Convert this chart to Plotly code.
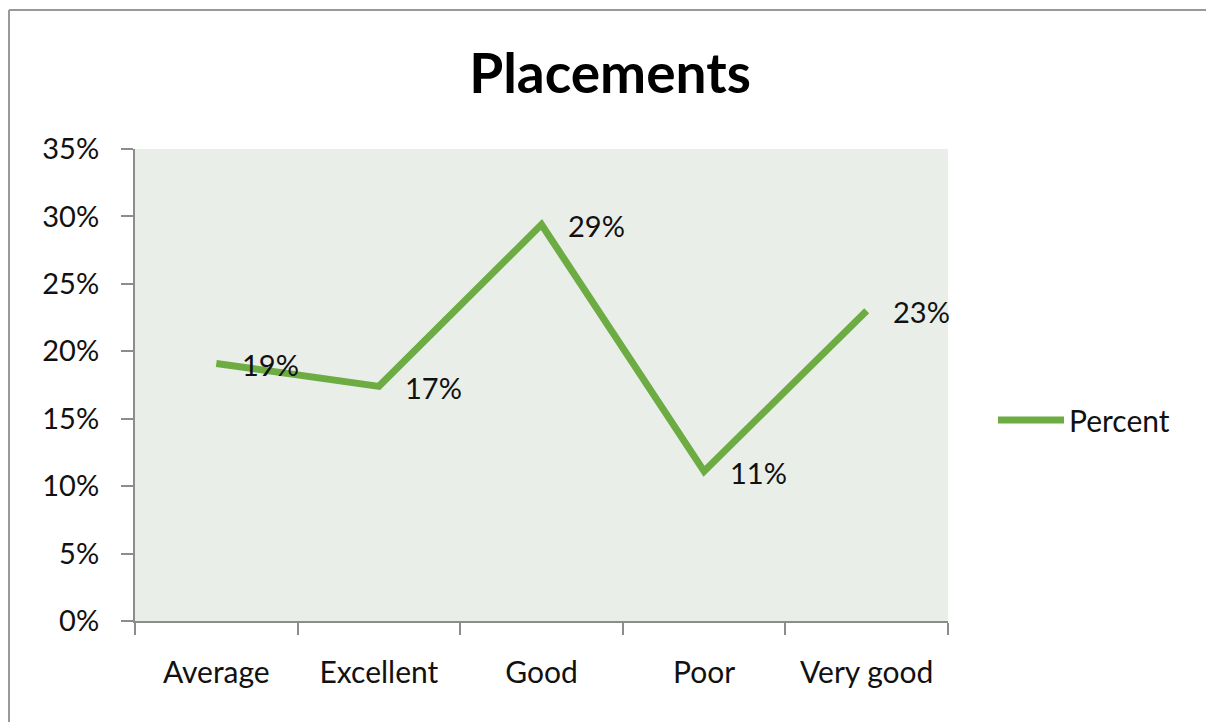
import plotly.graph_objects as go

categories = ["Average", "Excellent", "Good", "Poor", "Very good"]
percent = [0.191, 0.174, 0.294, 0.111, 0.23]
y_ticks = [0, 0.05, 0.10, 0.15, 0.20, 0.25, 0.30, 0.35]

GREEN = "#6DAB43"
FONT = "Lato, 'Open Sans', sans-serif"
NUM_SIZE = 29
TXT_SIZE = 30

fig = go.Figure()
fig.add_trace(go.Scatter(
    x=categories,
    y=percent,
    mode="lines",
    name="Percent",
    line=dict(color=GREEN, width=7),
))

# data labels placed to the right of each point
for cat, val in zip(categories, percent):
    fig.add_annotation(
        x=cat, y=val, xref="x", yref="y",
        text=f"{val:.0%}", showarrow=False,
        xanchor="left", yanchor="middle", xshift=24, yshift=-1,
        font=dict(family=FONT, size=NUM_SIZE, color="#111"),
    )

L, R, T, B = 135, 258, 149, 101
W, H = 1206, 722
pw, ph = W - L - R, H - T - B

fig.update_layout(
    width=W, height=H,
    margin=dict(l=L, r=R, t=T, b=B),
    paper_bgcolor="white",
    plot_bgcolor="#E9EEE8",
    font=dict(family=FONT, size=TXT_SIZE, color="#111"),
    title=dict(text="<b>Placements</b>", x=610 / W, xanchor="center",
               y=1 - 74 / H, yanchor="middle",
               font=dict(family=FONT, size=55, color="#000")),
    showlegend=True,
    legend=dict(x=(993 - L) / pw, y=(621 - 420) / ph, xanchor="left", yanchor="middle",
                font=dict(family=FONT, size=TXT_SIZE, color="#111"),
                bgcolor="rgba(0,0,0,0)", itemwidth=66),
    xaxis=dict(
        type="category", range=[-0.5, 4.5],
        showline=True, linecolor="#8C8C8C", linewidth=2,
        ticks="outside", ticklen=12, tickcolor="#8C8C8C", tickwidth=2,
        tickson="boundaries", showgrid=False, zeroline=False,
        ticklabelstandoff=24,
        tickfont=dict(family=FONT, size=TXT_SIZE, color="#111"),
    ),
    yaxis=dict(
        range=[0, 0.35], tickvals=y_ticks, tickformat=".0%",
        showline=True, linecolor="#8C8C8C", linewidth=2,
        ticks="outside", ticklen=12, tickcolor="#8C8C8C", tickwidth=2,
        showgrid=False, zeroline=False,
        ticklabelstandoff=16,
        tickfont=dict(family=FONT, size=NUM_SIZE, color="#111"),
    ),
)

# chart frame: left and top edges
frame = dict(color="#999999", width=2)
fig.add_shape(type="line", xref="paper", yref="paper",
              x0=(9 - L) / pw, x1=(9 - L) / pw,
              y0=(621 - 760) / ph, y1=(621 - 10) / ph, line=frame, layer="below")
fig.add_shape(type="line", xref="paper", yref="paper",
              x0=(9 - L) / pw, x1=(1300 - L) / pw,
              y0=(621 - 10) / ph, y1=(621 - 10) / ph, line=frame, layer="below")

fig.write_html("out.html", config={"displayModeBar": False})
